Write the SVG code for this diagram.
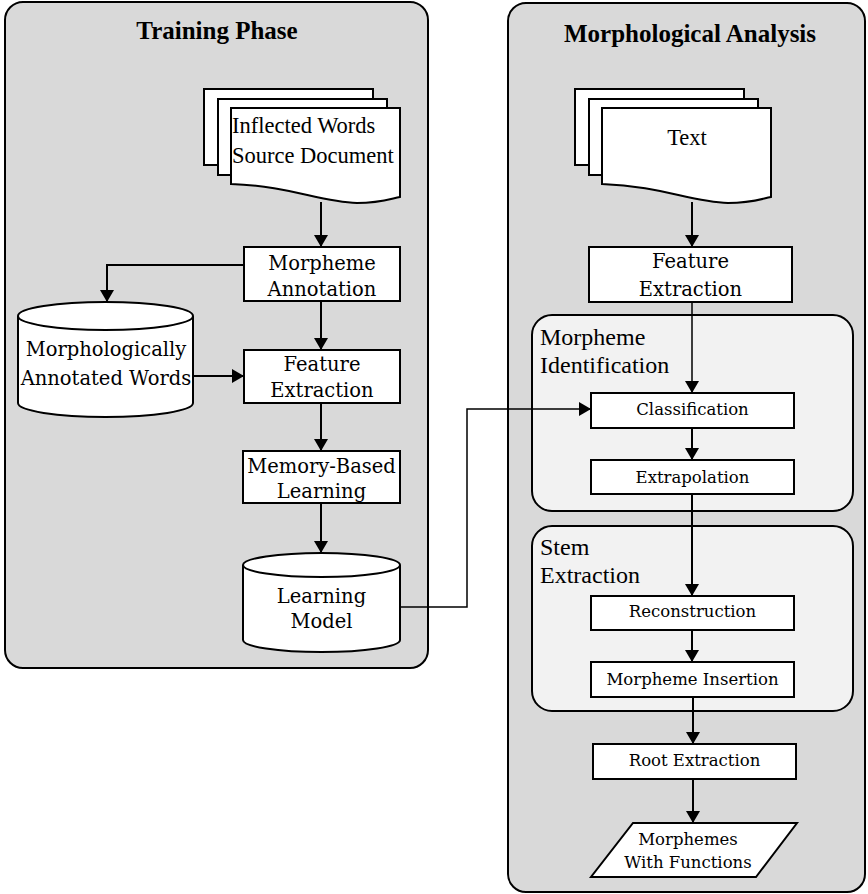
<svg xmlns="http://www.w3.org/2000/svg" width="868" height="894" viewBox="0 0 868 894">
  <style>
    .panel { fill: #d9d9d9; stroke: #000; stroke-width: 2; }
    .group { fill: #f2f2f2; stroke: #000; stroke-width: 2; }
    .box { fill: #fff; stroke: #000; stroke-width: 2; }
    .title { font-family: "Liberation Serif", serif; font-weight: bold; font-size: 25px; text-anchor: middle; fill: #000; }
    .doc { font-family: "Liberation Serif", serif; font-size: 22.5px; fill: #000; }
    .grp { font-family: "Liberation Serif", serif; font-size: 24px; fill: #000; }
    .lbl { font-family: "DejaVu Serif", serif; font-size: 19.5px; text-anchor: middle; fill: #000; }
    .sm { font-family: "DejaVu Serif", serif; font-size: 16.5px; text-anchor: middle; fill: #000; }
    .edge { fill: none; stroke: #000; stroke-width: 2; }
    .thin { fill: none; stroke: #000; stroke-width: 1.5; }
  </style>
  <defs>
    <marker id="arrow" markerUnits="userSpaceOnUse" markerWidth="13" markerHeight="14" refX="12" refY="7" orient="auto">
      <path d="M0,0 L12,7 L0,14 z" fill="#000"/>
    </marker>
    <!-- stacked multi-document shape -->
    <g id="docstack">
      <rect class="box" x="204" y="89" width="169" height="76"/>
      <rect class="box" x="218" y="99" width="169" height="76"/>
      <path class="box" d="M231,108 H400 V197 C390,199 380,203 357,203 C320,202 290,186 231,184 Z"/>
    </g>
  </defs>

  <!-- panels -->
  <g id="training-phase">
    <rect class="panel" x="5" y="2" width="423" height="666" rx="18"/>
    <text class="title" x="217" y="39">Training Phase</text>
  </g>
  <g id="morphological-analysis">
    <rect class="panel" x="508" y="3" width="357" height="889" rx="18"/>
    <text class="title" x="690" y="42">Morphological Analysis</text>
  </g>
  <g id="morpheme-identification">
    <rect class="group" x="532" y="315" width="321" height="196" rx="20"/>
    <text class="grp" x="540" y="345">Morpheme</text>
    <text class="grp" x="540" y="373">Identification</text>
  </g>
  <g id="stem-extraction">
    <rect class="group" x="532" y="526" width="321" height="185" rx="20"/>
    <text class="grp" x="540" y="555">Stem</text>
    <text class="grp" x="540" y="583">Extraction</text>
  </g>

  <!-- training nodes -->
  <g id="source-document">
    <use href="#docstack"/>
    <text class="doc" x="232" y="133">Inflected Words</text>
    <text class="doc" x="232" y="163">Source Document</text>
  </g>
  <g id="morpheme-annotation">
    <rect class="box" x="244" y="247" width="156" height="54"/>
    <text class="lbl" x="322" y="269.5">Morpheme</text>
    <text class="lbl" x="322" y="296">Annotation</text>
  </g>
  <g id="annotated-words">
    <path class="box" d="M18,316 A87.5,14 0 0 1 193,316 V403 A87.5,14 0 0 1 18,403 Z"/>
    <path class="edge" d="M18,316 A87.5,14 0 0 0 193,316"/>
    <text class="lbl" x="106" y="356">Morphologically</text>
    <text class="lbl" x="106" y="385">Annotated Words</text>
  </g>
  <g id="feature-extraction-train">
    <rect class="box" x="244" y="350" width="156" height="53"/>
    <text class="lbl" x="322" y="371">Feature</text>
    <text class="lbl" x="322" y="397">Extraction</text>
  </g>
  <g id="memory-based-learning">
    <rect class="box" x="243" y="451" width="157" height="52"/>
    <text class="lbl" x="321.5" y="473">Memory-Based</text>
    <text class="lbl" x="321.5" y="498">Learning</text>
  </g>
  <g id="learning-model">
    <path class="box" d="M243,565 A78.5,12 0 0 1 400,565 V640 A78.5,12 0 0 1 243,640 Z"/>
    <path class="edge" d="M243,565 A78.5,12 0 0 0 400,565"/>
    <text class="lbl" x="321.5" y="603">Learning</text>
    <text class="lbl" x="321.5" y="628">Model</text>
  </g>

  <!-- analysis nodes -->
  <g id="text-document">
    <use href="#docstack" transform="translate(371,0)"/>
    <text class="doc" x="687" y="145" text-anchor="middle">Text</text>
  </g>
  <g id="feature-extraction">
    <rect class="box" x="589" y="247" width="203" height="55"/>
    <text class="lbl" x="690.5" y="268">Feature</text>
    <text class="lbl" x="690.5" y="296">Extraction</text>
  </g>
  <g id="classification">
    <rect class="box" x="591" y="393" width="203" height="35"/>
    <text class="sm" x="692.5" y="415">Classification</text>
  </g>
  <g id="extrapolation">
    <rect class="box" x="591" y="460" width="203" height="34"/>
    <text class="sm" x="692.5" y="483">Extrapolation</text>
  </g>
  <g id="reconstruction">
    <rect class="box" x="591" y="596" width="203" height="34"/>
    <text class="sm" x="692.5" y="617">Reconstruction</text>
  </g>
  <g id="morpheme-insertion">
    <rect class="box" x="591" y="662" width="203" height="35"/>
    <text class="sm" x="692.5" y="685">Morpheme Insertion</text>
  </g>
  <g id="root-extraction">
    <rect class="box" x="593" y="744" width="203" height="35"/>
    <text class="sm" x="694.5" y="766">Root Extraction</text>
  </g>
  <g id="morphemes-output">
    <path class="box" d="M633,823 L797,823 L756,877 L591,877 Z"/>
    <text class="sm" x="688" y="845">Morphemes</text>
    <text class="sm" x="688" y="868">With Functions</text>
  </g>

  <!-- connectors -->
  <g id="connectors">
    <path class="edge" d="M321,202 V247" marker-end="url(#arrow)"/>
    <path class="edge" d="M244,265 H107 V302" marker-end="url(#arrow)"/>
    <path class="edge" d="M321,301 V350" marker-end="url(#arrow)"/>
    <path class="edge" d="M193,376 H244" marker-end="url(#arrow)"/>
    <path class="edge" d="M321,403 V451" marker-end="url(#arrow)"/>
    <path class="edge" d="M321,503 V553" marker-end="url(#arrow)"/>
    <path class="thin" d="M400,607 H467 V409 H591" marker-end="url(#arrow)"/>
    <path class="edge" d="M692,202 V247" marker-end="url(#arrow)"/>
    <path class="thin" d="M692,302 V393" marker-end="url(#arrow)"/>
    <path class="edge" d="M692,428 V460" marker-end="url(#arrow)"/>
    <path class="edge" d="M692,494 V596" marker-end="url(#arrow)"/>
    <path class="edge" d="M692,630 V662" marker-end="url(#arrow)"/>
    <path class="edge" d="M693,697 V744" marker-end="url(#arrow)"/>
    <path class="edge" d="M693,779 V823" marker-end="url(#arrow)"/>
  </g>
</svg>
